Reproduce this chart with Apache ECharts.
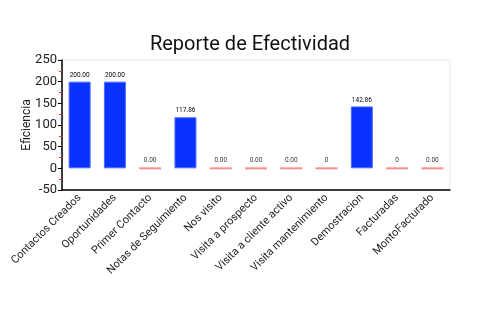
<!DOCTYPE html>
<html>
<head>
<meta charset="utf-8">
<script src="https://cdn.jsdelivr.net/npm/echarts@6/dist/echarts.min.js"></script>
<style>
  html, body { margin: 0; padding: 0; background: #fff; }
  #chart { width: 500px; height: 330px; }
</style>
</head>
<body>
<div id="chart"></div>
<script>
// Effectiveness report: one value per funnel stage
const categories = [
  'Contactos Creados', 'Oportunidades', 'Primer Contacto', 'Notas de Seguimiento',
  'Nos visito', 'Visita a prospecto', 'Visita a cliente activo', 'Visita mantenimiento',
  'Demostracion', 'Facturadas', 'MontoFacturado'
];
const efficiency = [200, 200, 0, 117.86, 0, 0, 0, 0, 142.86, 0, 0];
const labelDecimals = [2, 2, 2, 2, 2, 2, 2, 0, 2, 0, 2];
const yTicks = { min: -50, max: 250, interval: 50 };

const FONT = 'Roboto';

const barData = efficiency.map(v => (v === 0 ? null : v));
const zeroData = efficiency.map(v => (v === 0 ? 0 : null));
const fmt = p => efficiency[p.dataIndex].toFixed(labelDecimals[p.dataIndex]);

const chart = echarts.init(document.getElementById('chart'), null, { renderer: 'canvas' });
chart.setOption({
  animation: false,
  backgroundColor: '#ffffff',
  title: {
    text: 'Reporte de Efectividad',
    left: 'center',
    top: 30,
    textStyle: { fontFamily: FONT, fontSize: 20, fontWeight: 'normal', color: '#111' }
  },
  grid: {
    left: 62, right: 50, top: 60, bottom: 140,
    show: true, borderColor: '#e8e8e8', borderWidth: 1
  },
  xAxis: {
    type: 'category',
    data: categories,
    axisLine: { onZero: false, lineStyle: { color: '#000', width: 1.5 } },
    axisTick: { alignWithLabel: true, length: 4, lineStyle: { color: '#000' } },
    axisLabel: {
      rotate: 45, fontFamily: FONT, fontSize: 11, color: '#222', margin: 6, interval: 0
    }
  },
  yAxis: {
    type: 'value',
    min: yTicks.min, max: yTicks.max, interval: yTicks.interval,
    name: 'Eficiencia',
    nameLocation: 'middle',
    nameGap: 29,
    nameMoveOverlap: false,
    nameTextStyle: { fontFamily: FONT, fontSize: 12, color: '#222' },
    axisLine: { show: true, lineStyle: { color: '#000', width: 1.5 } },
    axisTick: { show: true, length: 4, lineStyle: { color: '#000' } },
    minorTick: { show: true, splitNumber: 2, length: 3, lineStyle: { color: '#ff3030' } },
    splitLine: { show: false },
    axisLabel: { fontFamily: FONT, fontSize: 13, color: '#222', margin: 5 }
  },
  series: [
    {
      type: 'bar',
      data: barData,
      barWidth: 22,
      itemStyle: { color: '#0a32ff', borderColor: '#4a6cff', borderWidth: 1 },
      label: {
        show: true, position: 'top', distance: 3,
        fontFamily: FONT, fontSize: 6.5, color: '#000', formatter: fmt
      }
    },
    {
      type: 'scatter',
      data: zeroData,
      symbol: 'rect',
      symbolSize: [22, 2],
      itemStyle: { color: '#ff7070' },
      label: {
        show: true, position: 'top', distance: 3,
        fontFamily: FONT, fontSize: 6.5, color: '#000', formatter: fmt
      }
    }
  ]
});
</script>
</body>
</html>
